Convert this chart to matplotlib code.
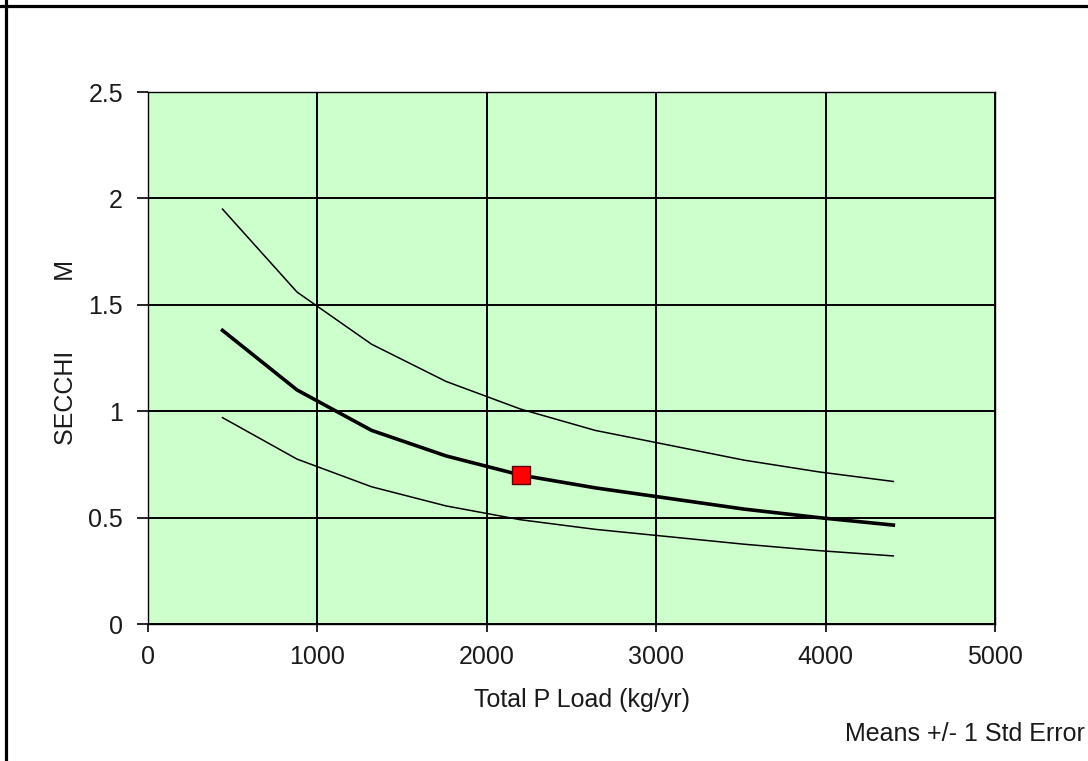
import matplotlib
matplotlib.use('Agg')
import matplotlib.pyplot as plt
from matplotlib.lines import Line2D

plt.rcParams['font.family'] = ['Liberation Sans', 'DejaVu Sans']

# total P load (kg/yr)
load = [440, 880, 1320, 1760, 2200, 2640, 3080, 3520, 3960, 4400]
# secchi mean and +/- 1 std error
secchi_mean = [1.38, 1.10, 0.91, 0.79, 0.70, 0.64, 0.59, 0.54, 0.50, 0.465]
secchi_hi = [1.95, 1.56, 1.315, 1.14, 1.01, 0.91, 0.84, 0.77, 0.715, 0.67]
secchi_lo = [0.97, 0.775, 0.645, 0.555, 0.49, 0.445, 0.41, 0.375, 0.345, 0.32]
# current estimate
cur_load = [2200]
cur_secchi = [0.70]

txt = '#1a1a1a'

fig = plt.figure(figsize=(10.88, 7.61), dpi=100)
ax = fig.add_axes([0.136, 0.18, 0.7785, 0.699])
ax.set_facecolor('#CCFFCC')

ax.plot(load, secchi_hi, color='black', lw=1.1, zorder=3)
ax.plot(load, secchi_lo, color='black', lw=1.1, zorder=3)
ax.plot(load, secchi_mean, color='black', lw=2.6, zorder=3)
ax.plot(cur_load, cur_secchi, 's', color='red', mec='#5a0000', ms=13, mew=1, zorder=4)

ax.set_xlim(0, 5000)
ax.set_ylim(0, 2.5)
ax.set_xticks([0, 1000, 2000, 3000, 4000, 5000])
ax.set_yticks([0, 0.5, 1, 1.5, 2, 2.5])
ax.set_yticklabels(['0', '0.5', '1', '1.5', '2', '2.5'])
ax.grid(True, color='black', lw=1.4)
ax.set_axisbelow(True)
for s in ax.spines.values():
    s.set_linewidth(1.0)
ax.tick_params(axis='x', direction='out', length=6, width=1.2, labelsize=18, pad=9, labelcolor=txt)
ax.tick_params(axis='y', direction='out', length=8, width=1.2, labelsize=18, pad=10, labelcolor=txt)

ax.set_xlabel('Total P Load (kg/yr)', fontsize=18, color=txt)
ax.xaxis.set_label_coords(0.512, -0.12)
ax.set_ylabel('SECCHI          M', fontsize=18, color=txt)
ax.yaxis.set_label_coords(-0.083, 0.51)
fig.text(0.997, 0.026, 'Means +/- 1 Std Error', ha='right', va='baseline', fontsize=18, color=txt)

# frame, top and left edges only
fig.add_artist(Line2D([0, 1], [1 - 5.5 / 761] * 2, transform=fig.transFigure, color='black', lw=2.3))
fig.add_artist(Line2D([5.5 / 1088] * 2, [0, 1], transform=fig.transFigure, color='black', lw=2.3))

fig.savefig('out.png', dpi=100, facecolor='white')
